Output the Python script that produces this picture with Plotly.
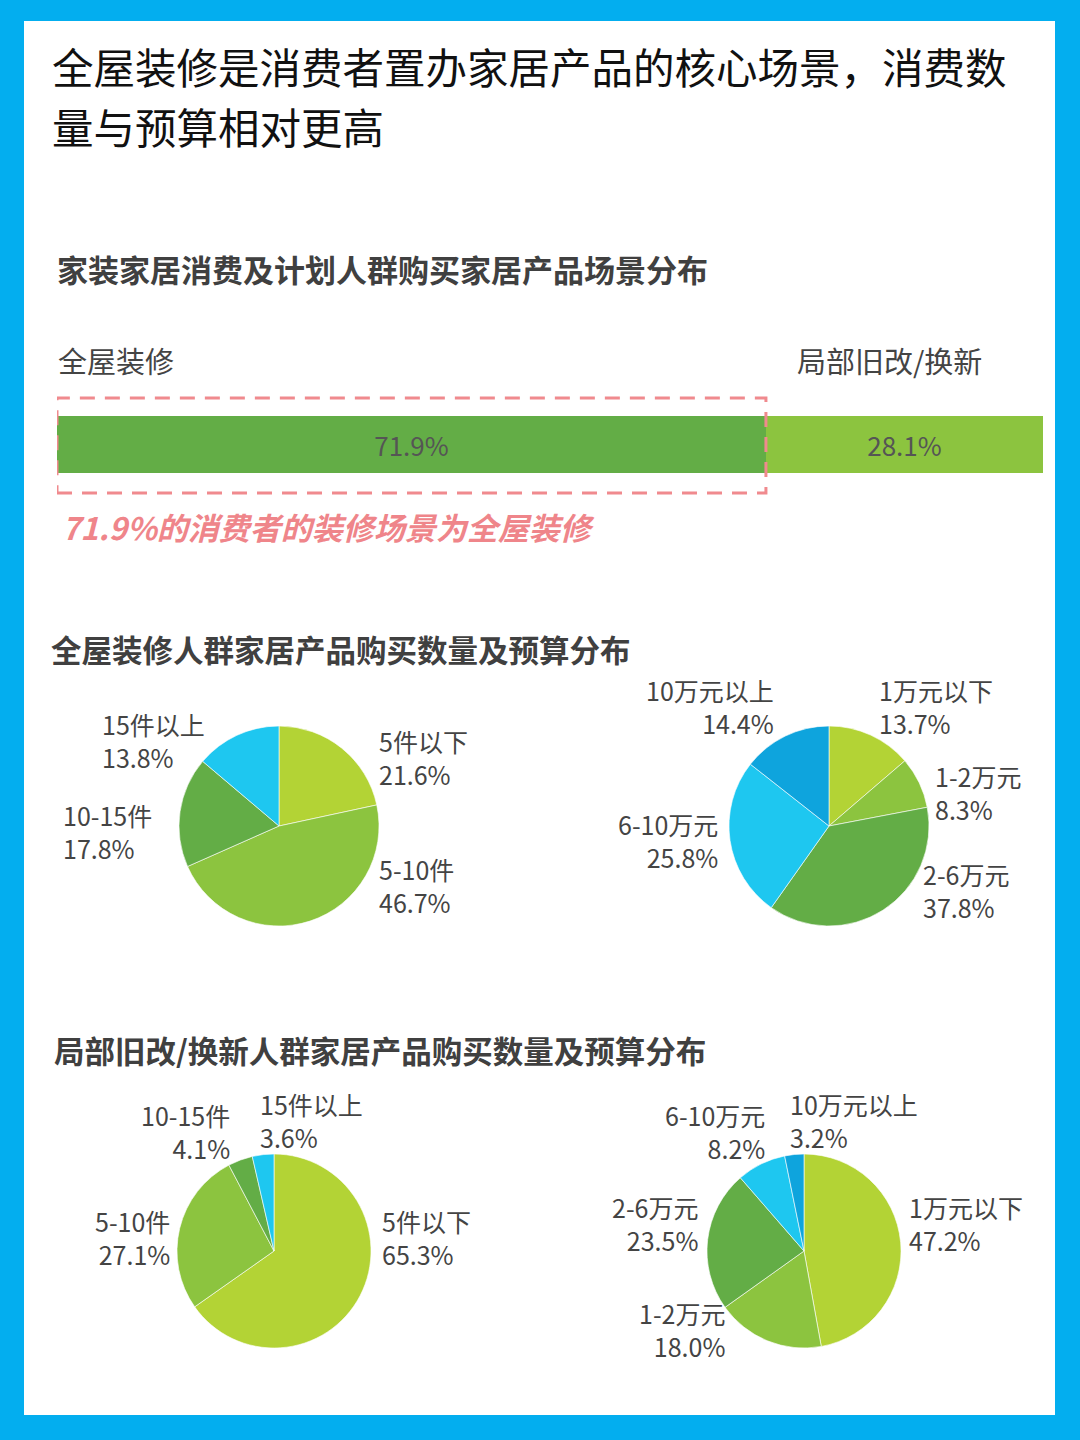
import plotly.graph_objects as go

# 场景分布
scene_names = ["全屋装修", "局部旧改/换新"]
scene_values = [71.9, 28.1]

# 全屋装修人群
full_qty_labels = ["5件以下", "5-10件", "10-15件", "15件以上"]
full_qty_values = [21.6, 46.7, 17.8, 13.8]
full_budget_labels = ["1万元以下", "1-2万元", "2-6万元", "6-10万元", "10万元以上"]
full_budget_values = [13.7, 8.3, 37.8, 25.8, 14.4]

# 局部旧改/换新人群
part_qty_labels = ["5件以下", "5-10件", "10-15件", "15件以上"]
part_qty_values = [65.3, 27.1, 4.1, 3.6]
part_budget_labels = ["1万元以下", "1-2万元", "2-6万元", "6-10万元", "10万元以上"]
part_budget_values = [47.2, 18.0, 23.5, 8.2, 3.2]

W, H = 1080, 1440
FONT = "Noto Sans CJK SC"
BLUE = "#03AEEF"
GREENS = ["#B3D335", "#8CC43F", "#63AD46", "#1EC7F0", "#0EA4DD"]
TEXT = "#444444"


def px_x(x):
    return x / W


def px_y(y):
    return 1 - y / H


def pie_domain(cx, cy, r):
    return dict(x=[px_x(cx - r), px_x(cx + r)], y=[px_y(cy + r), px_y(cy - r)])


fig = go.Figure()

# 横向堆积条
bar_colors = ["#63AD46", "#8CC43F"]
for name, val, col in zip(scene_names, scene_values, bar_colors):
    fig.add_trace(go.Bar(
        x=[val], y=[0], orientation="h", name=name, width=1,
        marker=dict(color=col, line=dict(width=0)),
        text=[f"{val}%"], textposition="inside", insidetextanchor="middle",
        textfont=dict(family=FONT, size=26, color="#555555"),
        hoverinfo="x+name", showlegend=False,
    ))

pies = [
    (full_qty_labels, full_qty_values, (279, 826, 100)),
    (full_budget_labels, full_budget_values, (829, 826, 100)),
    (part_qty_labels, part_qty_values, (274, 1251, 97)),
    (part_budget_labels, part_budget_values, (804, 1251, 97)),
]
for labels, values, (cx, cy, r) in pies:
    fig.add_trace(go.Pie(
        labels=labels, values=values, sort=False, direction="clockwise",
        rotation=0, textinfo="none", showlegend=False,
        marker=dict(colors=GREENS[:len(values)], line=dict(color="rgba(255,255,255,0.6)", width=1)),
        domain=pie_domain(cx, cy, r),
    ))

fig.update_layout(
    width=W, height=H,
    margin=dict(l=0, r=0, t=0, b=0),
    paper_bgcolor=BLUE,
    plot_bgcolor="rgba(0,0,0,0)",
    barmode="stack",
    xaxis=dict(domain=[px_x(57), px_x(1043)], range=[0, sum(scene_values)],
               visible=False, fixedrange=True),
    yaxis=dict(domain=[px_y(473), px_y(416)], range=[-0.5, 0.5],
               visible=False, fixedrange=True),
    font=dict(family=FONT, color=TEXT),
)

shapes = [
    dict(type="rect", xref="paper", yref="paper", layer="below",
         x0=px_x(24), x1=px_x(1055), y0=px_y(1415), y1=px_y(21),
         fillcolor="white", line=dict(width=0)),
    dict(type="rect", xref="x", yref="paper",
         x0=0, x1=scene_values[0], y0=px_y(493), y1=px_y(398),
         line=dict(color="#F08A8E", width=3, dash="15px,10px"),
         fillcolor="rgba(0,0,0,0)"),
]
fig.update_layout(shapes=shapes)

ann = []


def add_text(text, x, y, size, color=TEXT, xanchor="left", align="left"):
    ann.append(dict(text=text, x=px_x(x), y=px_y(y), xref="paper", yref="paper",
                    xanchor=xanchor, yanchor="middle", align=align, showarrow=False,
                    font=dict(family=FONT, size=size, color=color)))


add_text("全屋装修是消费者置办家居产品的核心场景，消费数", 50, 66, 41.5, "#111111")
add_text("量与预算相对更高", 50, 126, 41.5, "#111111")
add_text("<b>家装家居消费及计划人群购买家居产品场景分布</b>", 55, 268, 31, "#404040")
add_text(scene_names[0], 56, 360, 29, TEXT)
add_text(scene_names[1], 984, 360, 29, TEXT, xanchor="right", align="right")
add_text(f"<b><i>{scene_values[0]}%的消费者的装修场景为全屋装修</i></b>", 60, 527, 31, "#EF858A")
add_text("<b>全屋装修人群家居产品购买数量及预算分布</b>", 49, 649, 30.5, "#404040")
add_text("<b>局部旧改/换新人群家居产品购买数量及预算分布</b>", 52, 1050, 30.5, "#404040")

# 饼图标签位置 (x, y, 对齐)
label_pos = [
    [(377, 757, "left"), (377, 885, "left"), (61, 832, "left"), (100, 741, "left")],
    [(877, 706, "left"), (933, 792, "left"), (921, 890, "left"), (720, 840, "right"), (776, 706, "right")],
    [(380, 1237, "left"), (172, 1237, "right"), (232, 1131, "right"), (258, 1120, "left")],
    [(907, 1223, "left"), (727, 1329, "right"), (700, 1223, "right"), (767, 1131, "right"), (788, 1120, "left")],
]
for (labels, values, _), positions in zip(pies, label_pos):
    for lab, val, (x, y, al) in zip(labels, values, positions):
        add_text(f"{lab}<br>{val:.1f}%", x, y, 25, TEXT, xanchor=al, align=al)

fig.update_layout(annotations=ann)

fig.write_html("out.html", config={"displayModeBar": False},
               post_script="document.body.style.margin='0';document.body.style.overflow='hidden';")
